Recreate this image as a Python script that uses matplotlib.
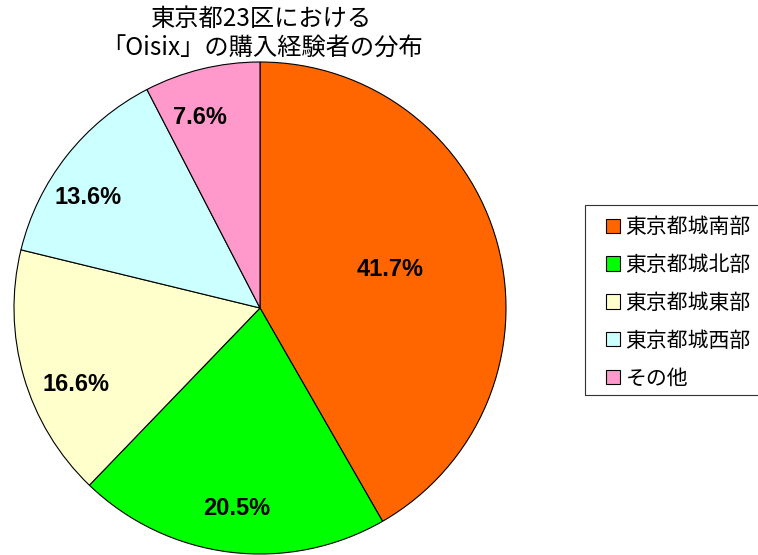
import numpy as np
import matplotlib

matplotlib.use("Agg")
import matplotlib.pyplot as plt
from matplotlib.patches import Rectangle

plt.rcParams["font.family"] = ["Noto Sans CJK JP", "DejaVu Sans"]

TITLE = "東京都23区における\n「Oisix」の購入経験者の分布"
categories = ["東京都城南部", "東京都城北部", "東京都城東部", "東京都城西部", "その他"]
shares = [41.7, 20.5, 16.6, 13.6, 7.6]
colors = ["#FF6600", "#00FF00", "#FFFFCC", "#CCFFFF", "#FF99CC"]

# label placement: distance from centre (fraction of radius) and angle nudge (deg)
label_dist = [0.55, 0.82, 0.81, 0.83, 0.81]
label_nudge = [1.4, 0.5, 6.4, 5.5, 3.8]

W, H = 758, 555
fig = plt.figure(figsize=(W / 100, H / 100), dpi=100)

cx, cy, r = 260, 308, 246
ax = fig.add_axes([(cx - r) / W, (H - cy - r) / H, 2 * r / W, 2 * r / H])

wedges, _ = ax.pie(
    shares,
    colors=colors,
    startangle=90,
    counterclock=False,
    wedgeprops=dict(edgecolor="black", linewidth=0.8),
)
ax.set_xlim(-1, 1)
ax.set_ylim(-1, 1)
ax.set_aspect("equal")
ax.axis("off")

for w, val, d, nudge in zip(wedges, shares, label_dist, label_nudge):
    mid = np.deg2rad((w.theta1 + w.theta2) / 2 + nudge)
    ax.text(
        d * np.cos(mid),
        d * np.sin(mid),
        f"{val:.1f}%",
        ha="center",
        va="center",
        fontsize=17,
        fontweight="bold",
        family="Liberation Sans",
    )

fig.text(262 / W, 1 - 6 / H, TITLE, ha="center", va="top", fontsize=17.5,
         linespacing=1.2)

# legend box runs off the right edge in the original
fig.add_artist(Rectangle((585 / W, (H - 395) / H), 200 / W, 190 / H,
                         transform=fig.transFigure, fill=False,
                         edgecolor="#333333", linewidth=0.8))

leg = fig.legend(
    wedges,
    categories,
    loc="upper left",
    bbox_to_anchor=(606 / W, 1 - 216 / H),
    frameon=False,
    fontsize=15,
    handlelength=0.68,
    handleheight=0.68,
    handletextpad=0.25,
    labelspacing=0.76,
    borderpad=0,
    borderaxespad=0,
)

fig.savefig("out.png", dpi=100)
